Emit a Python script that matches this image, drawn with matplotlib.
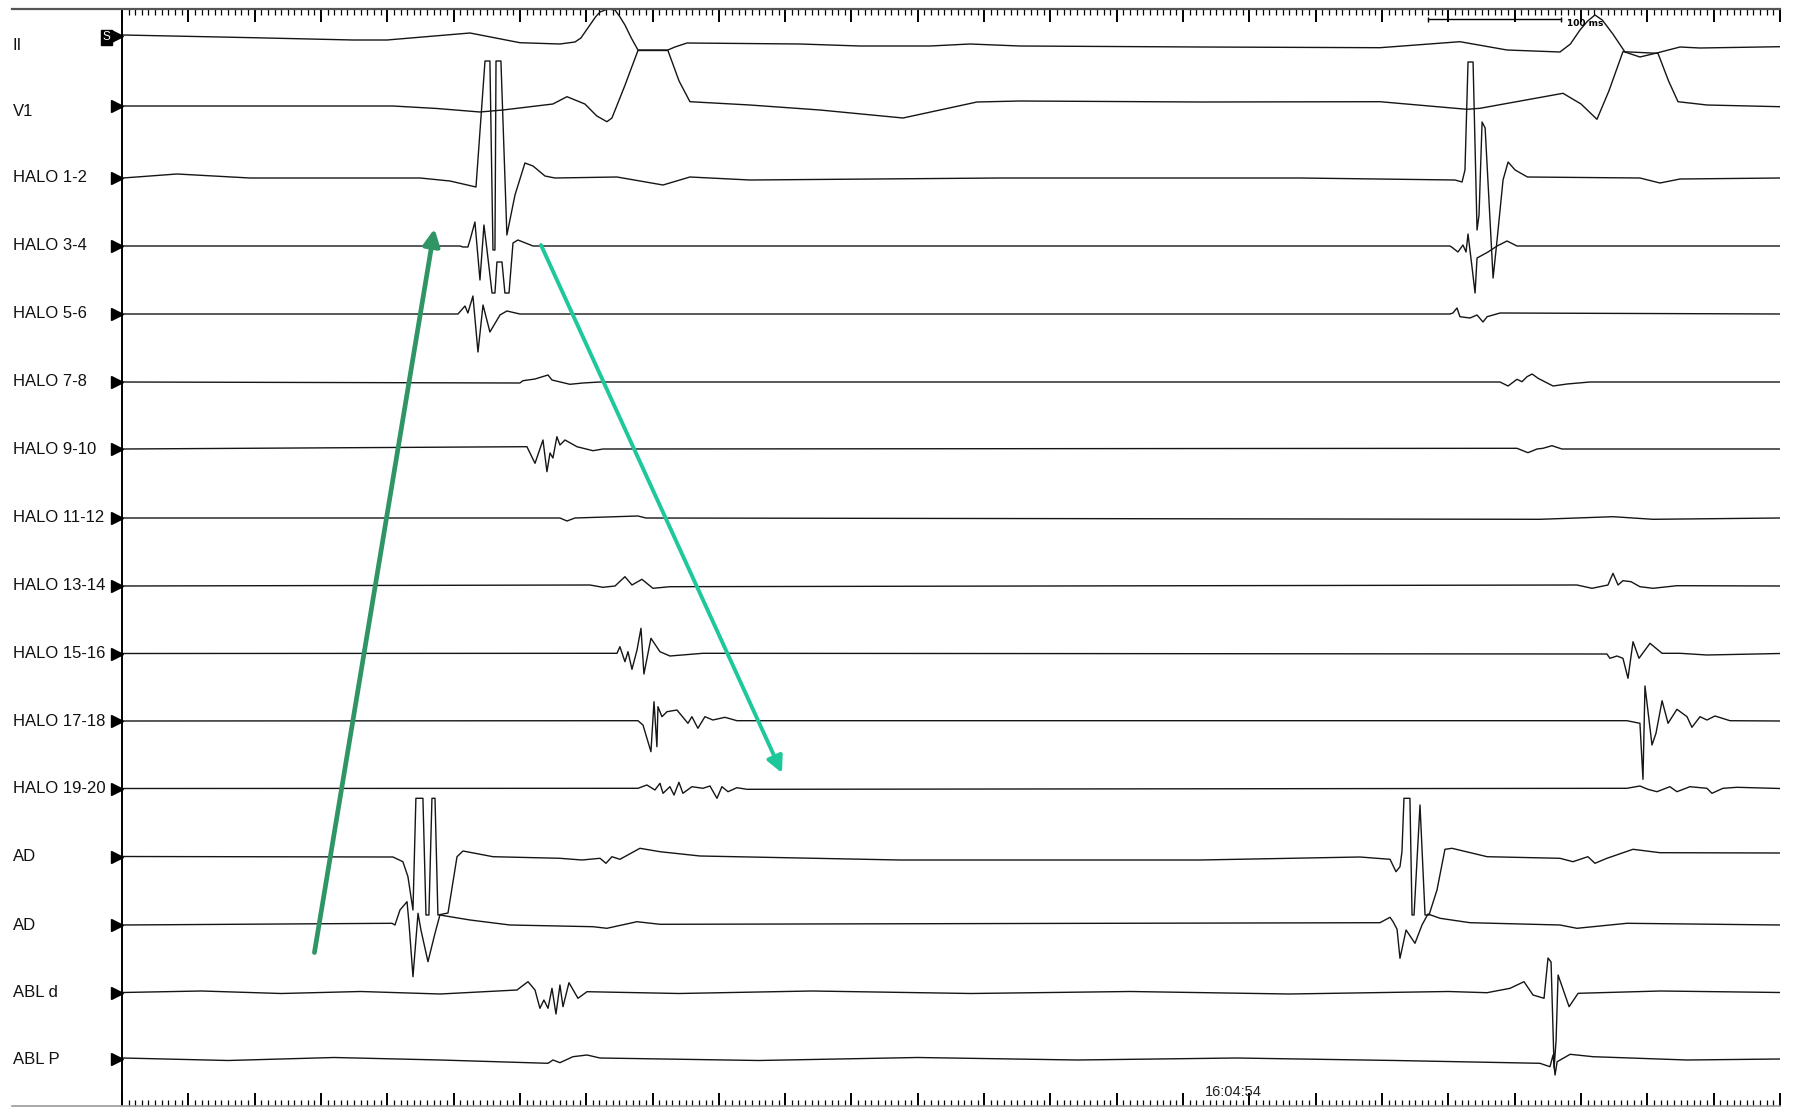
import matplotlib
matplotlib.use("Agg")
import matplotlib.pyplot as plt
from matplotlib.ticker import FixedLocator
import numpy as np

plt.rcParams['font.family'] = ['Liberation Sans', 'DejaVu Sans']

# channel rows, top to bottom (baseline row position on screen, amplitude in same units)
labels = ['II', 'V1', 'HALO 1-2', 'HALO 3-4', 'HALO 5-6', 'HALO 7-8', 'HALO 9-10',
          'HALO 11-12', 'HALO 13-14', 'HALO 15-16', 'HALO 17-18', 'HALO 19-20',
          'AD', 'AD', 'ABL d', 'ABL P']
baselines = [36, 106, 178, 246, 314, 382, 449, 518, 586, 653.5, 721, 788.5,
             856.5, 925, 992.5, 1059]
label_dy = [9, 5, 0, 0, 0, 0, 0, 0, 0, 0, 0, 0, 0, 0, 0, 0]

# (time ms, deflection)
ii = [(0.75, 1), (98.8, -1.7), (174.2, -4), (199.8, -4), (262.4, 3), (300, -6.7),
      (330.2, -8), (341.5, -6), (346, -2), (352.8, 11), (357, 19), (360.4, 24),
      (366.4, 27), (371.7, 26), (375.5, 19), (379.2, 11), (384, -2), (389, -14),
      (411.6, -14), (416.9, -11), (426, -7), (511.1, -8), (556.4, -10), (609.2, -10),
      (639.3, -8), (677, -10), (812.7, -11), (948.4, -11.7), (1008.7, -5.7),
      (1044.2, -14), (1084.1, -16), (1092, -8), (1099.2, 6), (1105, 15), (1110.5, 21),
      (1116, 16), (1124, 2), (1133.1, -16), (1144.4, -21), (1158, -16.7),
      (1174.6, -11), (1189.7, -12), (1250, -10.7)]
v1 = [(0.75, 0), (204.3, 0), (237.5, -2.5), (269.9, -6), (287.2, -4), (324.9, 2),
      (335.5, 9.3), (349, 2), (358, -10), (365.6, -15.7), (369.4, -12), (379, 20),
      (389, 55.5), (411.6, 55.5), (420, 25), (428.2, 4.3), (473.4, 1), (526.2, -4),
      (588.8, -12), (644.6, 4), (677, 5), (812.7, 4), (948.4, 4.3), (1014, -3.3),
      (1023.8, -2.3), (1086.4, 12.7), (1100, 2), (1112, -13.3), (1121, 15),
      (1131.6, 54.3), (1158, 52.7), (1166, 25), (1173.1, 4.3), (1194.9, 1),
      (1250, -0.7)]
h12 = [(0.75, 0), (41.5, 4), (96.5, 0), (224.7, 0), (247.3, -3), (266.9, -9),
       (273.7, 117), (277.4, 117), (279.7, -72), (281.2, -72), (282, 117),
       (285.7, 117), (290.2, -57), (296.3, -17), (303.8, 15), (309.9, 12),
       (318.9, 2), (326.4, 0), (373.2, 1), (407.9, -7), (428.2, 1), (473.4, -2),
       (661.9, 0), (888.1, 0), (1005, -2), (1010.3, -4), (1012.5, 8), (1014.8, 116),
       (1018.6, 116), (1021.6, -52), (1023.1, -37), (1025.4, 56), (1027.7, 50),
       (1033.7, -100), (1036.7, -62), (1041.2, -2), (1045, 16), (1050.3, 8),
       (1059.6, 1), (1144.4, 0), (1159.5, -5), (1174.6, -1), (1250, 0)]
h34 = [(0.75, 0), (254.8, 0), (257.1, -1), (260.8, -1), (262.4, 6), (266.1, 24),
       (269.9, -34), (272.9, 21), (275.2, -4), (279, -47), (281.2, -47),
       (282.7, -16), (286.5, -16), (288.7, -47), (291.8, -47), (294.8, 3),
       (298.5, 6), (309.9, 0), (1001.2, 0), (1003.4, -2), (1007.2, -6), (1011, 1),
       (1013.3, -6), (1014.8, 12), (1017.8, -21), (1020.1, -47), (1021.6, -12),
       (1029.9, -6), (1036.7, 0), (1044.2, 5), (1051.7, 0), (1250, 0)]
h56 = [(0.75, 0), (253.3, 0), (258.6, 8), (260.8, 1), (264.6, 18), (268.4, -38),
       (272.2, 9), (277.4, -18), (285, -1), (290.2, 3), (300, 0), (1001.2, 0),
       (1003.4, 1), (1006.5, 6), (1008.7, -2.7), (1016.3, -4), (1021.6, -1),
       (1026.1, -8), (1029.2, -2.7), (1039, 1), (1250, 0)]
h78 = [(0.75, 0), (300, -1), (302.3, 1.3), (311.4, 3), (321.2, 7), (324.2, 2),
       (337.7, -2.3), (347.5, -1), (360.4, 0), (1038.9, 0), (1045, -4),
       (1051.7, 2.7), (1055.5, 0.3), (1059.3, 5.3), (1063.1, 8), (1067.6, 3.7),
       (1078.9, -4), (1089.5, -2), (1106.7, 0), (1250, 0)]
h910 = [(0.75, 0), (305.3, 2.3), (311.4, -14.3), (317.4, 9), (320.4, -22.7),
        (322.7, -4), (324.9, -9), (327.9, 12.3), (330.2, 4), (334, 9), (343, 2.3),
        (355.1, -1.7), (362.6, 0), (1051.7, 0.7), (1060, -3.7), (1066.8, 0),
        (1071.3, 0.7), (1078.1, 3.3), (1085.6, 0), (1250, 0)]
h1112 = [(0.75, 0), (330.2, 0), (335.5, -3), (341.5, 0), (389, 2), (395, 0),
         (1069, -1.3), (1124.1, 1.3), (1154.2, -1.3), (1250, 0)]
h1314 = [(0.75, 0), (352.8, 1), (362.6, -1.3), (371.7, 0), (379.2, 9.3),
         (384.5, 1), (392, 6.7), (400.3, -2.3), (413.1, -0.7), (1096.9, 1),
         (1108.3, -2.3), (1120.3, 1), (1124.1, 12.7), (1127.9, 1), (1131.6, 5.3),
         (1137.7, 4.3), (1144.4, -0.7), (1154.2, -2.3), (1172.3, 0.3), (1250, 0)]
h1516 = [(0.75, 0), (373.2, 0.2), (375.4, 6.8), (379.2, -8.2), (381.5, 1.8),
         (384.5, -15.8), (388.3, 3.5), (391.3, 25.2), (393.5, -20.5), (398.8, 15.2),
         (405.6, 1.8), (413.1, -2.5), (438, 0.2), (1119.5, -0.5), (1121.8, -4.8),
         (1127.1, -2.5), (1131.6, -4.8), (1135.4, -24.8), (1139.2, 11.8),
         (1143.7, -4.8), (1152, 10.2), (1161.1, 0.2), (1174.6, 0.2), (1194.9, -1.5),
         (1250, 0)]
h1718 = [(0.75, 0), (389, 0.3), (392.8, -4), (398.8, -30.7), (401.1, 19.3),
         (403.3, -25.7), (404.1, 14.3), (407.1, 4.3), (410.9, 9.3), (418.4, 11),
         (426.7, -2.3), (429.7, 4.3), (434.2, -7.3), (439.5, 4.3), (445.5, 1),
         (454.6, 3.7), (463.6, 0.3), (1134.6, 0.3), (1144.4, -2.3), (1146.7, -58.3),
         (1148.2, 35), (1153.5, -24), (1156.5, -12.3), (1161.1, 20.3), (1165.6, -2.3),
         (1172.3, 11.7), (1179.9, 4.3), (1183.6, -6.3), (1189.7, 4.3), (1194.9, 1),
         (1201, 5), (1212.3, 0.3), (1250, 0)]
h1920 = [(0.75, 0), (389, 0.2), (395.8, 3.5), (401.8, -1.5), (405.6, 5.2),
         (407.9, -4.8), (413.1, 1.8), (416.2, -6.5), (419.9, 6.2), (422.9, -4.8),
         (429.7, 1.8), (438, 0.2), (443.3, 2.5), (448.6, -9.8), (452.3, 1.8),
         (456.9, -3.2), (463.6, 0.8), (471.2, -0.8), (1134.6, 0.2), (1144.4, 2.5),
         (1150.4, -0.8), (1157.2, -3.2), (1167, 1.8), (1172.3, -3.2), (1182.1, 1.8),
         (1194.9, 0.2), (1198.7, -4.8), (1207, 0.2), (1217.6, 1.2), (1250, 0)]
ad1 = [(0.75, 0), (204.3, -0.5), (211.8, -5.2), (215.6, -20.2), (219.4, -53.5),
       (221.6, 58.2), (226.9, 58.2), (229.2, -58.5), (231.4, -58.5), (233.7, 58.2),
       (236, 58.2), (238.2, -58.5), (245.8, -56.5), (249, -30), (252.6, -0.2),
       (257.1, 5.5), (279.7, -0.2), (330.2, -1.8), (346.8, -3.5), (360.4, -1.8),
       (364.9, -6.8), (369.4, -0.2), (375.4, -2.8), (390.5, 8.2), (405.6, 4.8),
       (435.8, 0.5), (586.5, -3.5), (812.7, -3.5), (933.3, -0.5), (956, -2.8),
       (960.5, -15.2), (963.5, -10.2), (965, 4.8), (966.5, 58.2), (971, 58.2),
       (972.6, -58.5), (974.1, -58.5), (978.6, 51.5), (982.4, -58.5),
       (985.4, -58.5), (991.4, -33.5), (997.4, 7.2), (1002.7, 8.2), (1029.2, -0.2),
       (1084.1, -1.8), (1093.9, -5.2), (1105.2, -0.2), (1110.5, -6.8),
       (1119.5, -1.8), (1139.2, 7.2), (1159.5, 3.8), (1250, 3.5)]
ad2 = [(0.75, 0), (203.6, 1.7), (205.8, 0), (209.6, 15), (214.9, 23.3),
       (216.4, 1.7), (219.4, -51.7), (223.2, 11.7), (225.4, -5), (230.7, -36.7),
       (236, -8.3), (239.7, 10), (247.3, 8.3), (262.4, 5), (292.5, 0), (355.1, -1.7),
       (365.6, -3.3), (388.3, 3.3), (405.6, 0.7), (948.4, 2.3), (956, 7.7),
       (958.3, 3.3), (961.3, -4.3), (963.5, -33.3), (968.1, -5), (974.8, -18.3),
       (980.1, 0), (984.6, 11), (993.7, 6.7), (1016.3, 2.3), (1084.1, 0),
       (1096.9, -3.3), (1134.6, 1.7), (1250, 0)]
abl_d = [(0.75, 0), (60, 1.5), (120, -1), (180, 1), (240, -1.5), (297.8, 2.5),
         (306.1, 10.8), (311.4, 2.5), (315.1, -15.8), (318.1, -7.5), (321.2, -15.8),
         (324.2, 4.2), (327.2, -21.5), (330.2, 7.5), (332.5, -14.2), (337, 9.8),
         (343.8, -5.8), (350.6, 0.8), (420, -1), (520, 1.5), (640, -1), (760, 1),
         (880, -1.5), (1000, 1), (1029.1, -0.2), (1046.5, 4.2), (1057, 10.8),
         (1063.8, -2.5), (1072.1, -5.8), (1075.1, 34.5), (1077.4, 30.5),
         (1079.7, -75.5), (1081.2, -47.5), (1082.7, 17.5), (1091, -14.2),
         (1097.8, -0.8), (1160, 1.5), (1250, 0)]
abl_p = [(0.75, 1), (80, -1.5), (160, 1.5), (240, -1), (321.2, -4.3), (325, -1),
         (330.2, -3.7), (340, 2.3), (350.6, 4), (360.4, 1), (480, -1.5), (600, 1.5),
         (720, -1), (840, 1), (960, -1.5), (1069, -4.3), (1076.6, -7.7), (1078.9, 4),
         (1080.4, -16), (1082, -2.7), (1091.8, 4.7), (1109.1, 2.3), (1180, -1),
         (1250, 0)]
traces = [ii, v1, h12, h34, h56, h78, h910, h1112, h1314, h1516, h1718, h1920,
          ad1, ad2, abl_d, abl_p]

# annotation arrows (time ms, screen row)
arrow_up = [(145.1, 952.5), (235.6, 228.7)]
arrow_down = [(315.9, 245), (497.6, 773)]
scale_start = 984.6
scale_len = 100
timestamp = '16:04:54'

fig = plt.figure(figsize=(17.93, 11.07), dpi=100)
fig.patch.set_facecolor('white')
ax = fig.add_axes([12 / 1793, 1.5 / 1107, (1780 - 12) / 1793, (1105.5 - 9) / 1107])
ax.set_xlim(-82.9, 1250)
ax.set_ylim(1105.5, 9)

for base, pts in zip(baselines, traces):
    t = [p[0] for p in pts]
    a = [base - p[1] for p in pts]
    ax.plot(t, a, color='#151515', lw=1.0, solid_joinstyle='round')

# row labels and channel markers
for name, base, dy in zip(labels, baselines, label_dy):
    ax.text(-82.5, base + dy, name, fontsize=12, ha='left', va='center', color='#111')
ax.plot([-3.5] * len(baselines), baselines, linestyle='none', marker='>',
        markersize=9, color='black', clip_on=False)
ax.text(-11.7, 37.5, 'S', color='white', fontsize=8.5, ha='center', va='center',
        bbox=dict(boxstyle='square,pad=0.12', fc='black', ec='black'))

# time ruler
ax.xaxis.set_major_locator(FixedLocator(np.arange(0, 1251, 50)))
ax.xaxis.set_minor_locator(FixedLocator(np.arange(0, 1251, 5)))
ax.tick_params(axis='x', which='both', direction='in', top=True, bottom=True,
               labelbottom=False, labeltop=False, colors='black')
ax.tick_params(axis='x', which='major', length=9.5, width=1.4)
ax.tick_params(axis='x', which='minor', length=4.5, width=0.9)
ax.set_yticks([])
ax.spines['left'].set_visible(False)
ax.spines['right'].set_visible(False)
ax.spines['top'].set_color('#555555')
ax.spines['top'].set_linewidth(1.6)
ax.spines['bottom'].set_color('#9a9a9a')
ax.spines['bottom'].set_linewidth(1.2)
ax.axvline(0, color='black', lw=1.4)

# 100 ms calibration bar
ax.plot([scale_start, scale_start + scale_len], [19, 19], color='black', lw=1.0)
ax.vlines([scale_start, scale_start + scale_len], 16.5, 21.5, color='black', lw=1.0)
ax.text(scale_start + scale_len + 5, 23, '%d ms' % scale_len, fontsize=6.5,
        fontweight='bold', ha='left', va='center', family='DejaVu Sans')

ax.text(837.6, 1092, timestamp, fontsize=10.5, ha='center', va='center', color='#222')

# activation arrows
ax.annotate('', xy=arrow_up[1], xytext=arrow_up[0],
            arrowprops=dict(arrowstyle='-|>,head_length=0.7,head_width=0.35',
                            color='#2f9565', lw=3.4, mutation_scale=14,
                            shrinkA=0, shrinkB=0))
ax.annotate('', xy=arrow_down[1], xytext=arrow_down[0],
            arrowprops=dict(arrowstyle='-|>,head_length=0.7,head_width=0.35',
                            color='#1ec89a', lw=2.8, mutation_scale=14,
                            shrinkA=0, shrinkB=0))

fig.savefig('out.png', dpi=100)
